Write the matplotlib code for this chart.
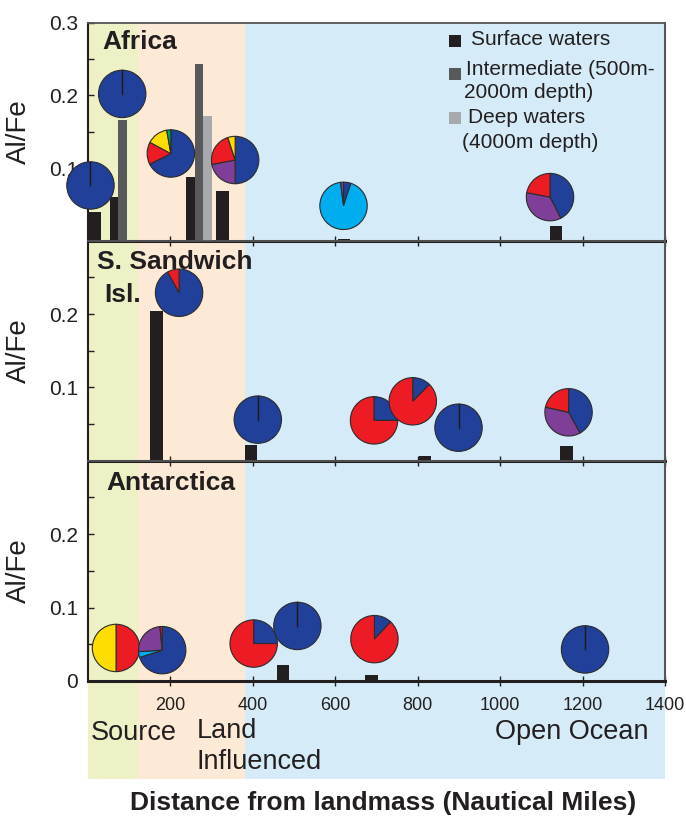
import matplotlib
matplotlib.use('Agg')
import matplotlib.pyplot as plt
import matplotlib.transforms as mtransforms
from matplotlib.patches import Wedge, Rectangle
from matplotlib.lines import Line2D

plt.rcParams['font.family'] = ['Liberation Sans', 'DejaVu Sans']

##### colours
BLUE = '#21409a'; RED = '#ed1c24'; YEL = '#ffdd00'
PUR = '#7f3f98'; CYAN = '#00aeef'; GRN = '#00a651'
INK = '#231f20'
bar_col = {'surface': '#231f20', 'intermediate': '#58595b', 'deep': '#a7a9ac'}

##### data
panel_names = ['Africa', 'S. Sandwich\nIsl.', 'Antarctica']

# bars: (distance, Al/Fe, water type)
africa_bars_x = [17, 63, 84, 248, 269, 290, 326, 621, 1136]
africa_bars_v = [0.040, 0.060, 0.166, 0.087, 0.243, 0.171, 0.069, 0.003, 0.020]
africa_bars_t = ['surface', 'surface', 'intermediate', 'surface', 'intermediate',
                 'deep', 'surface', 'surface', 'surface']

sandwich_bars_x = [166, 396, 818, 1161]
sandwich_bars_v = [0.204, 0.021, 0.007, 0.020]
sandwich_bars_t = ['surface'] * 4

antarctica_bars_x = [473, 688]
antarctica_bars_v = [0.022, 0.008]
antarctica_bars_t = ['surface'] * 2

# pies: position (distance, Al/Fe) and fractions clockwise from 12 o'clock
africa_pie_x = [6, 83, 201, 357, 620, 1121]
africa_pie_y = [0.076, 0.202, 0.120, 0.111, 0.048, 0.060]
africa_pie_f = [[100], [100], [67.5, 15.3, 14.4, 2.8], [50, 22, 23, 5], [5, 93, 2], [42.5, 35.5, 22]]
africa_pie_c = [[BLUE], [BLUE], [BLUE, RED, YEL, GRN], [BLUE, PUR, RED, YEL], [BLUE, CYAN, PUR], [BLUE, PUR, RED]]

sandwich_pie_x = [221, 412, 694, 788, 899, 1166]
sandwich_pie_y = [0.229, 0.056, 0.055, 0.081, 0.045, 0.066]
sandwich_pie_f = [[92, 8], [100], [25, 75], [12.5, 87.5], [100], [42, 36.5, 21.5]]
sandwich_pie_c = [[BLUE, RED], [BLUE], [BLUE, RED], [BLUE, RED], [BLUE], [BLUE, PUR, RED]]

antarctica_pie_x = [68, 180, 402, 508, 695, 1206]
antarctica_pie_y = [0.045, 0.042, 0.051, 0.075, 0.057, 0.043]
antarctica_pie_f = [[50, 50], [70, 4, 24.5, 1.5], [25, 75], [100], [12, 88], [100]]
antarctica_pie_c = [[RED, YEL], [BLUE, CYAN, PUR, RED], [BLUE, RED], [BLUE], [BLUE, RED], [BLUE]]

ytick_labels = [[0.1, 0.2, 0.3], [0.1, 0.2], [0, 0.1, 0.2]]

zones = [(0, 122, '#eef1c6'), (122, 381, '#fdead6'), (381, 1400, '#d5ecf8')]
zone_labels = ['Source', 'Land\nInfluenced', 'Open Ocean']

legend_labels = ['Surface waters', 'Intermediate (500m-\n2000m depth)', 'Deep waters\n(4000m depth)']

panels = [
    (africa_bars_x, africa_bars_v, africa_bars_t, africa_pie_x, africa_pie_y, africa_pie_f, africa_pie_c),
    (sandwich_bars_x, sandwich_bars_v, sandwich_bars_t, sandwich_pie_x, sandwich_pie_y, sandwich_pie_f, sandwich_pie_c),
    (antarctica_bars_x, antarctica_bars_v, antarctica_bars_t, antarctica_pie_x, antarctica_pie_y, antarctica_pie_f, antarctica_pie_c),
]

W, H = 686, 817
fig = plt.figure(figsize=(W / 100, H / 100), dpi=100)

def fx(px):
    return px / W

def fy(py):
    return 1 - py / H

L, R = 88, 665

# background zones
bg = fig.add_axes([fx(L), fy(779), fx(R - L), (779 - 22.7) / H], zorder=0)
for a, b, c in zones:
    bg.axvspan(a, b, color=c, lw=0)
bg.set_xlim(0, 1400)
bg.set_ylim(0, 1)
bg.axis('off')

tops = [22.7, 240.7, 460.7]
bots = [240.7, 460.7, 681]

PIE_R = 0.237  # inches


def draw_pie(ax, x, y, fracs, cols):
    trans = fig.dpi_scale_trans + mtransforms.ScaledTranslation(x, y, ax.transData)
    tot = sum(fracs)
    cum = 0
    for f, c in zip(fracs, cols):
        a = 360 * f / tot
        if a >= 359.99:
            w = Wedge((0, 0), PIE_R, 0, 360, facecolor=c, edgecolor='#2b2b2b', lw=0.8,
                      transform=trans, clip_on=False, zorder=5)
            ax.add_artist(w)
            ln = Line2D([0, 0], [0, PIE_R], color='#1a1a1a', lw=1.0, transform=trans,
                        clip_on=False, zorder=6)
            ax.add_artist(ln)
        else:
            w = Wedge((0, 0), PIE_R, 90 - cum - a, 90 - cum, facecolor=c, edgecolor='#2b2b2b',
                      lw=0.8, transform=trans, clip_on=False, zorder=5)
            ax.add_artist(w)
        cum += a


axes = []
for i, (bx, bv, bt, px, py, pf, pc) in enumerate(panels):
    ax = fig.add_axes([fx(L), fy(bots[i]), fx(R - L), (bots[i] - tops[i]) / H], zorder=2)
    ax.patch.set_alpha(0)
    axes.append(ax)

    for j in range(len(bx)):
        near = any(abs(bx[j] - bx[k]) < 25 for k in range(len(bx)) if k != j)
        w = 21 if near else 30
        ax.bar(bx[j], bv[j], width=w, color=bar_col[bt[j]], zorder=3, lw=0)

    for x, y, f, c in zip(px, py, pf, pc):
        draw_pie(ax, x, y, f, c)

    ax.set_xlim(0, 1400)
    ax.set_ylim(0, 0.3)

    yt = [0.05 * k for k in range(7)]
    ax.set_yticks(yt)
    labs = []
    for t in yt:
        hit = [v for v in ytick_labels[i] if abs(v - t) < 1e-6]
        labs.append(('0' if hit[0] == 0 else '%.1f' % hit[0]) if hit else '')
    ax.set_yticklabels(labs)
    ax.tick_params(axis='y', direction='in', length=4, width=1, color=INK,
                   labelsize=15, labelcolor=INK, pad=7)

    ax.set_xticks([200, 400, 600, 800, 1000, 1200, 1400])
    ax.tick_params(axis='x', direction='inout', length=7, width=1, color=INK,
                   labelsize=13, labelcolor=INK, pad=8)
    if i < 2:
        ax.set_xticklabels([])

    ax.set_ylabel('Al/Fe', fontsize=20, color=INK)
    ax.yaxis.set_label_coords(-0.097, 0.5)

    for s in ['left', 'bottom']:
        ax.spines[s].set_color(INK)
    ax.spines['left'].set_linewidth(1.5)
    ax.spines['bottom'].set_linewidth(2.2)
    ax.spines['top'].set_color('#555555')
    ax.spines['top'].set_linewidth(1.3)
    ax.spines['right'].set_color('#555555')
    ax.spines['right'].set_linewidth(1.5)

# panel labels
PL = 19
axes[0].text(0.024, 0.913, panel_names[0], transform=axes[0].transAxes, fontsize=PL,
             fontweight='bold', color=INK, va='center', ha='left')
nm = panel_names[1].split('\n')
axes[1].text(0.015, 0.905, nm[0], transform=axes[1].transAxes, fontsize=PL,
             fontweight='bold', color=INK, va='center', ha='left')
axes[1].text(0.029, 0.752, nm[1], transform=axes[1].transAxes, fontsize=PL,
             fontweight='bold', color=INK, va='center', ha='left')
axes[2].text(0.031, 0.9, panel_names[2], transform=axes[2].transAxes, fontsize=PL,
             fontweight='bold', color=INK, va='center', ha='left')

# legend
ax = axes[0]
sq_y = [0.890, 0.737, 0.534]
for k, key in enumerate(['surface', 'intermediate', 'deep']):
    ax.add_patch(Rectangle((0.626, sq_y[k]), 0.0208, 0.055, transform=ax.transAxes,
                           facecolor=bar_col[key], lw=0, zorder=4))
leg_lines = [(legend_labels[0], 0.663, 0.924),
             (legend_labels[1].split('\n')[0], 0.655, 0.786),
             (legend_labels[1].split('\n')[1], 0.652, 0.679),
             (legend_labels[2].split('\n')[0], 0.659, 0.566),
             (legend_labels[2].split('\n')[1], 0.648, 0.451)]
for t, x, y in leg_lines:
    ax.text(x, y, t, transform=ax.transAxes, fontsize=15, color=INK, va='center', ha='left')

# zone labels
ZL = 19.5
fig.text(fx(91), fy(733), zone_labels[0], fontsize=ZL, color=INK, va='center', ha='left')
z1 = zone_labels[1].split('\n')
fig.text(fx(197), fy(731), z1[0], fontsize=ZL, color=INK, va='center', ha='left')
fig.text(fx(197), fy(762), z1[1], fontsize=ZL, color=INK, va='center', ha='left')
fig.text(fx(495), fy(732), zone_labels[2], fontsize=ZL, color=INK, va='center', ha='left')

fig.text(fx(383), fy(803), 'Distance from landmass (Nautical Miles)', fontsize=19,
         fontweight='bold', color=INK, va='center', ha='center')

fig.savefig('out.png', dpi=100)
